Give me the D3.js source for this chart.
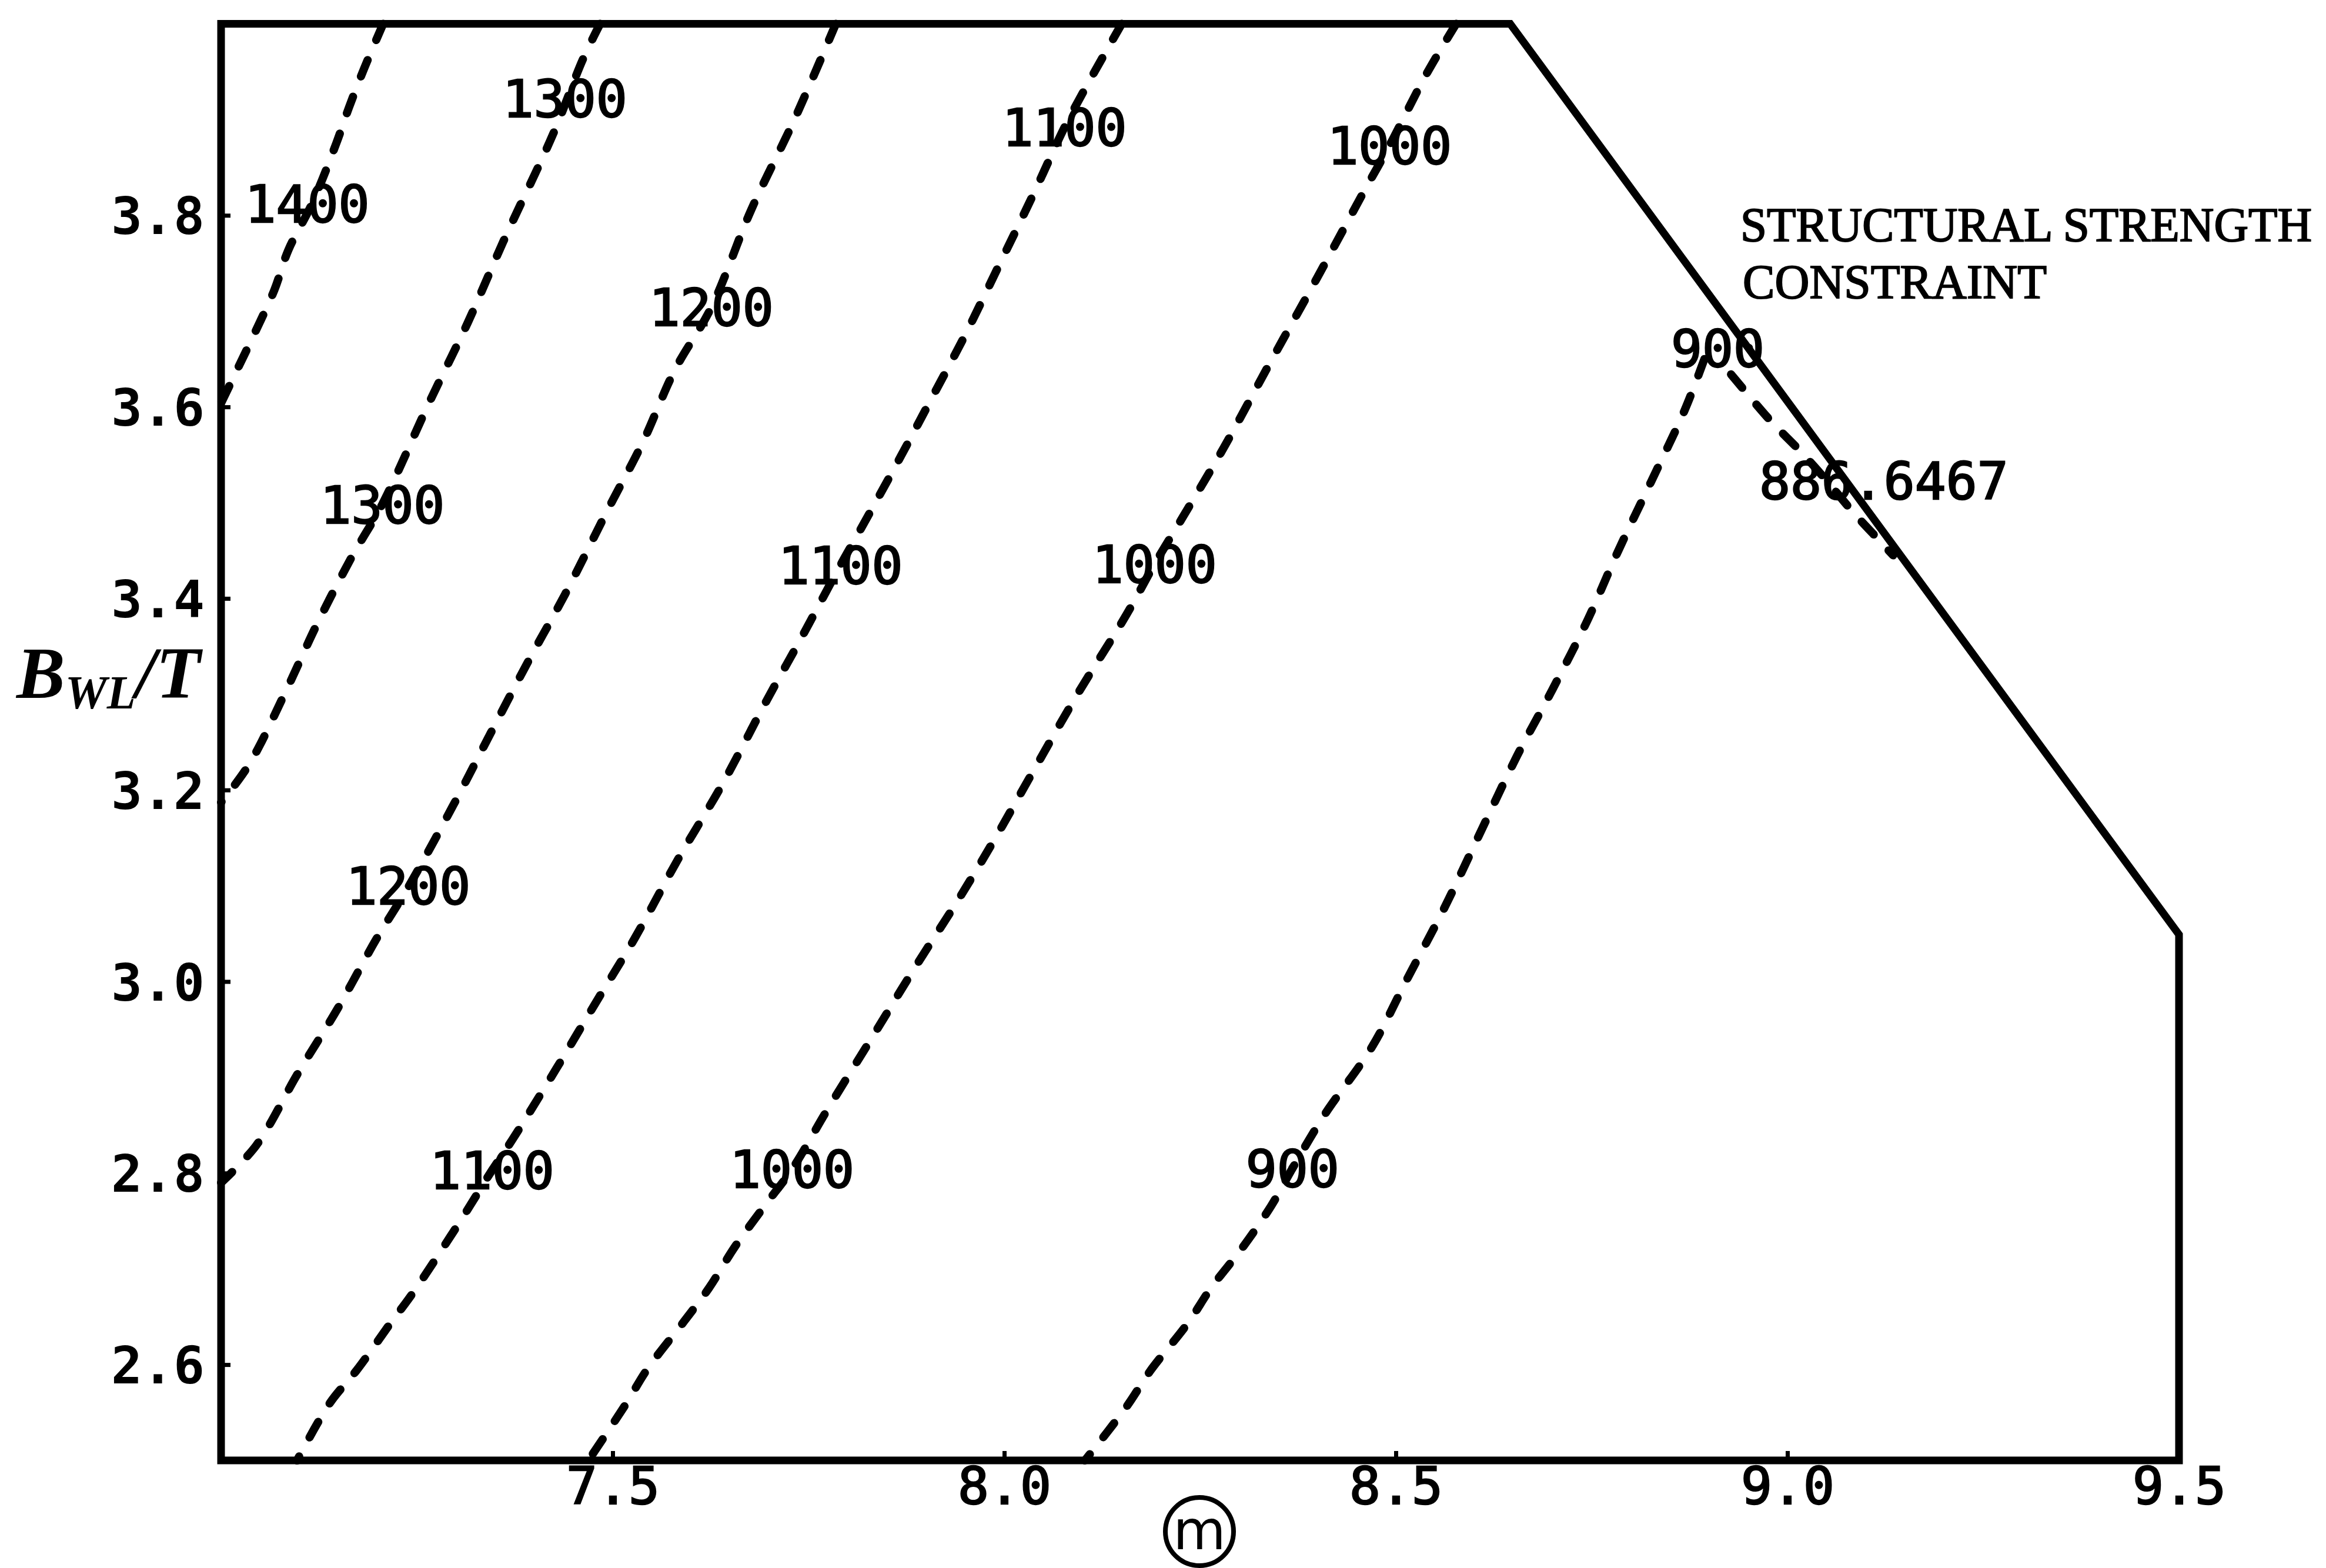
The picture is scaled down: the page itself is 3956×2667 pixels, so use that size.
<!DOCTYPE html>
<html>
<head>
<meta charset="utf-8">
<script src="https://cdn.jsdelivr.net/npm/d3@7"></script>
<style>
  html, body { margin: 0; padding: 0; background: #fff; }
  svg { display: block; }
</style>
</head>
<body>
<svg id="chart" width="3956" height="2667"></svg>
<script>
// Axis ticks
const xTicks = [7.5, 8.0, 8.5, 9.0, 9.5];
const yTicks = [2.6, 2.8, 3.0, 3.2, 3.4, 3.6, 3.8];

// Feasible design region: box limits plus the structural strength constraint
const feasibleBoundary = [[7.0, 2.5], [7.0, 4.0], [8.646, 4.0], [9.5, 3.049], [9.5, 2.5]];

// Objective contours, points given as [m, B_WL/T]
const contour1400 = [[7.207, 4.0], [7.183, 3.954], [7.163, 3.912], [7.147, 3.875], [7.116, 3.812],
  [7.086, 3.764], [7.068, 3.722], [7.044, 3.679], [7.020, 3.638], [7.0, 3.604]];
const contour1300 = [[7.484, 4.0], [7.462, 3.963], [7.424, 3.885], [7.360, 3.772], [7.315, 3.688],
  [7.266, 3.605], [7.205, 3.497], [7.168, 3.445], [7.123, 3.374], [7.082, 3.302], [7.036, 3.227], [7.0, 3.187]];
const contour1200 = [[7.785, 4.0], [7.732, 3.900], [7.677, 3.806], [7.626, 3.704], [7.579, 3.638],
  [7.539, 3.564], [7.494, 3.493], [7.439, 3.404], [7.392, 3.334], [7.344, 3.259], [7.299, 3.188],
  [7.240, 3.100], [7.198, 3.044], [7.149, 2.972], [7.098, 2.904], [7.045, 2.829], [7.0, 2.79]];
const contour1100 = [[8.150, 4.0], [8.101, 3.929], [8.077, 3.892], [8.036, 3.820], [7.994, 3.749],
  [7.950, 3.675], [7.906, 3.607], [7.863, 3.541], [7.813, 3.467], [7.791, 3.435], [7.741, 3.359],
  [7.697, 3.294], [7.640, 3.206], [7.583, 3.127], [7.528, 3.045], [7.477, 2.976], [7.428, 2.909],
  [7.372, 2.835], [7.346, 2.803], [7.304, 2.748], [7.245, 2.675], [7.217, 2.644], [7.173, 2.594],
  [7.139, 2.560], [7.097, 2.5]];
const contour1000 = [[8.577, 4.0], [8.538, 3.946], [8.492, 3.873], [8.460, 3.826], [8.397, 3.731],
  [8.338, 3.644], [8.280, 3.557], [8.228, 3.485], [8.192, 3.436], [8.156, 3.383], [8.092, 3.298],
  [8.038, 3.221], [7.988, 3.149], [7.944, 3.089], [7.884, 3.012], [7.830, 2.940], [7.774, 2.866],
  [7.729, 2.804], [7.696, 2.768], [7.656, 2.723], [7.623, 2.680], [7.591, 2.645], [7.544, 2.595],
  [7.517, 2.559], [7.469, 2.5]];
const contour900 = [[8.894, 3.650], [8.869, 3.597], [8.826, 3.522], [8.783, 3.448], [8.744, 3.376],
  [8.700, 3.305], [8.655, 3.236], [8.611, 3.161], [8.562, 3.077], [8.514, 3.002], [8.469, 2.931],
  [8.409, 2.861], [8.368, 2.805], [8.341, 2.766], [8.304, 2.722], [8.264, 2.680], [8.235, 2.644],
  [8.186, 2.593], [8.156, 2.556], [8.103, 2.5]];
const contourOptimum = [[8.928, 3.634], [8.979, 3.585], [9.015, 3.555], [9.048, 3.525],
  [9.084, 3.490], [9.118, 3.460], [9.135, 3.445]];

const contours = [contour1400, contour1300, contour1200, contour1100, contour1000, contour900, contourOptimum];

// Level labels placed along the contours: [level, m, B_WL/T]
const contourLabels = [
  [1400, 7.110, 3.812],
  [1300, 7.439, 3.922], [1300, 7.206, 3.498],
  [1200, 7.626, 3.704], [1200, 7.239, 3.100],
  [1100, 8.077, 3.892], [1100, 7.791, 3.435], [1100, 7.346, 2.803],
  [1000, 8.492, 3.873], [1000, 8.192, 3.436], [1000, 7.729, 2.804],
  [900, 8.911, 3.661], [900, 8.368, 2.805]
];
const optimumLabel = [886.6467, 9.123, 3.523];

const constraintText = ["STRUCTURAL STRENGTH", "CONSTRAINT"];

// ---- layout ----
const svg = d3.select("#chart");
const x = d3.scaleLinear().domain([7.0, 9.5]).range([376, 3706]);
const y = d3.scaleLinear().domain([2.5, 4.0]).range([2484, 40.5]);

const mono = "'DejaVu Sans Mono', 'Liberation Mono', monospace";
const serif = "'Liberation Serif', 'DejaVu Serif', serif";

const line = d3.line()
  .x(d => x(d[0]))
  .y(d => y(d[1]))
  .curve(d3.curveCatmullRom.alpha(0.5));

// dashed contours
svg.append("g")
  .selectAll("path")
  .data(contours)
  .join("path")
  .attr("d", line)
  .attr("fill", "none")
  .attr("stroke", "#000")
  .attr("stroke-width", 14)
  .attr("stroke-linecap", "round")
  .attr("stroke-dasharray", "30 37");

// boundary of the feasible region
svg.append("path")
  .datum(feasibleBoundary)
  .attr("d", d3.line().x(d => x(d[0])).y(d => y(d[1])).curve(d3.curveLinearClosed))
  .attr("fill", "none")
  .attr("stroke", "#000")
  .attr("stroke-width", 13)
  .attr("stroke-linejoin", "miter");

// axes with short inward ticks
const yAxis = svg.append("g")
  .attr("transform", `translate(${x(7.0)},0)`)
  .call(d3.axisLeft(y).tickValues(yTicks).tickFormat(d3.format(".1f"))
    .tickSizeInner(-16).tickSizeOuter(0).tickPadding(28));
yAxis.select(".domain").remove();
yAxis.selectAll(".tick line").attr("stroke", "#000").attr("stroke-width", 7);
yAxis.selectAll(".tick text")
  .attr("font-family", mono).attr("font-size", 88).attr("font-weight", "bold")
  .attr("fill", "#000").attr("dy", "0.36em");

const xAxis = svg.append("g")
  .attr("transform", `translate(0,${y(2.5)})`)
  .call(d3.axisBottom(x).tickValues(xTicks).tickFormat(d3.format(".1f"))
    .tickSizeInner(-16).tickSizeOuter(0).tickPadding(12));
xAxis.select(".domain").remove();
xAxis.selectAll(".tick line").attr("stroke", "#000").attr("stroke-width", 7);
xAxis.selectAll(".tick text")
  .attr("font-family", mono).attr("font-size", 88)
  .attr("fill", "#000").attr("stroke", "#000").attr("stroke-width", 2.5);

// contour level labels
svg.append("g")
  .selectAll("text")
  .data(contourLabels)
  .join("text")
  .attr("x", d => x(d[1]))
  .attr("y", d => y(d[2]))
  .attr("dy", "0.36em")
  .attr("text-anchor", "middle")
  .attr("font-family", mono)
  .attr("font-size", 88)
  .attr("fill", "#000")
  .attr("stroke", "#000")
  .attr("stroke-width", 2.5)
  .text(d => d[0]);

svg.append("text")
  .attr("x", x(optimumLabel[1]))
  .attr("y", y(optimumLabel[2]))
  .attr("dy", "0.36em")
  .attr("text-anchor", "middle")
  .attr("font-family", mono)
  .attr("font-size", 88)
  .attr("fill", "#000")
  .attr("stroke", "#000")
  .attr("stroke-width", 2.5)
  .text(optimumLabel[0]);

// constraint annotation
const note = svg.append("g")
  .attr("font-family", serif)
  .attr("font-size", 82)
  .attr("fill", "#000")
  .attr("stroke", "#000")
  .attr("stroke-width", 2);
note.append("text").attr("x", 2960).attr("y", 410)
  .attr("textLength", 972).attr("lengthAdjust", "spacingAndGlyphs")
  .text(constraintText[0]);
note.append("text").attr("x", 2964).attr("y", 507)
  .attr("textLength", 517).attr("lengthAdjust", "spacingAndGlyphs")
  .text(constraintText[1]);

// y-axis title: B_WL / T
const yTitle = svg.append("text")
  .attr("x", 28).attr("y", 1187)
  .attr("font-family", serif)
  .attr("font-style", "italic")
  .attr("font-weight", "bold")
  .attr("font-size", 124)
  .attr("fill", "#000");
yTitle.append("tspan").text("B");
yTitle.append("tspan").attr("font-size", 80).attr("dy", 18).text("WL");
yTitle.append("tspan").attr("dy", -18).text("/T");

// x-axis title: circled m
const xTitle = svg.append("g").attr("transform", "translate(2040,2605)");
xTitle.append("circle").attr("r", 58)
  .attr("fill", "none").attr("stroke", "#000").attr("stroke-width", 8);
xTitle.append("text")
  .attr("y", 30)
  .attr("text-anchor", "middle")
  .attr("font-family", "'DejaVu Sans', sans-serif")
  .attr("font-size", 92)
  .attr("fill", "#000")
  .text("m");
</script>
</body>
</html>
